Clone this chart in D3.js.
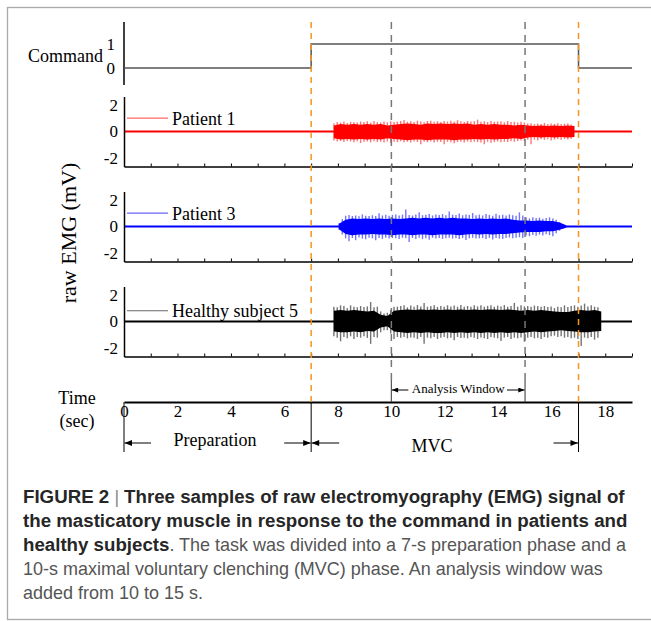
<!DOCTYPE html>
<html>
<head>
<meta charset="utf-8">
<script src="https://cdn.jsdelivr.net/npm/d3@7"></script>
<style>
body{margin:0;background:#fff}
svg{display:block}
</style>
</head>
<body>
<svg id="fig" width="651" height="621"></svg>
<script>
// ---- data ----
var timeTicks = [0, 2, 4, 6, 8, 10, 12, 14, 16, 18];
var emgTicks = [-2, 0, 2];
var commandTimes = [0, 7, 7, 17, 17, 19];
var commandLevels = [0, 0, 1, 1, 0, 0];
var phaseBounds = [7, 17];      // orange lines
var windowBounds = [10, 15];    // analysis window
var envStep = 0.25;             // s between envelope samples of the dense part
var binStep = 0.125;            // s per max/min bin

// Patient 1 : dense part envelope (mV) and per-bin max / min (mV)
var p1Start = 7.85;
var p1Upper = [0.45,0.55,0.5,0.55,0.5,0.55,0.5,0.55,0.45,0.5,0.55,0.6,0.55,0.5,0.6,0.55,0.6,0.55,0.6,0.55,0.6,0.5,0.55,0.5,0.55,0.5,0.5,0.45,0.5,0.45,0.4,0.45,0.4,0.45,0.4,0.45,0.4];
var p1Lower = [-0.5,-0.6,-0.55,-0.6,-0.55,-0.6,-0.55,-0.6,-0.5,-0.55,-0.6,-0.65,-0.6,-0.6,-0.65,-0.6,-0.6,-0.6,-0.65,-0.6,-0.6,-0.55,-0.6,-0.55,-0.6,-0.55,-0.55,-0.5,-0.55,-0.45,-0.4,-0.45,-0.4,-0.45,-0.4,-0.45,-0.4];
var p1Max = [0.6,0.7,0.66,0.75,0.64,0.72,0.68,0.66,0.74,0.7,
             0.76,0.66,0.78,0.7,0.66,0.74,0.68,0.76,0.7,0.72,
             0.78,0.85,0.72,0.76,0.7,0.8,0.74,0.68,0.78,0.8,
             0.72,0.76,0.7,0.78,0.74,0.8,0.72,0.84,0.76,0.7,
             0.78,0.74,0.76,0.88,0.72,0.76,0.7,0.78,0.72,0.74,
             0.76,0.68,0.78,0.7,0.72,0.66,0.72,0.66,0.6,0.62,
             0.55,0.6,0.56,0.64,0.55,0.6,0.56,0.62,0.55,0.58,0.6,0.52];
var p1Min = [-0.66,-0.74,-0.7,-0.78,-0.7,-0.74,-0.8,-0.72,-0.86,-0.76,
             -0.74,-0.8,-0.72,-0.78,-0.76,-0.82,-0.74,-0.86,-0.76,-0.78,
             -0.72,-0.8,-0.76,-0.82,-0.74,-0.78,-0.94,-0.76,-0.8,-0.74,
             -0.82,-0.76,-0.78,-0.94,-0.76,-0.8,-0.88,-0.78,-0.76,-0.82,
             -0.74,-0.8,-0.76,-0.78,-0.82,-0.94,-0.76,-0.84,-0.78,-0.74,
             -0.8,-0.76,-0.78,-0.72,-0.76,-0.7,-0.66,-0.72,-0.62,-0.94,
             -0.6,-0.66,-0.56,-0.62,-0.58,-0.66,-0.6,-0.56,-0.62,-0.55,-0.6,-0.54];

// Patient 3
var p3Start = 8.04;
var p3Upper = [0.2,0.5,0.6,0.55,0.6,0.55,0.6,0.55,0.6,0.55,0.6,0.65,0.6,0.65,0.6,0.65,0.6,0.65,0.6,0.6,0.55,0.6,0.55,0.6,0.55,0.6,0.5,0.45,0.45,0.4,0.45,0.4,0.4,0.3,0.1];
var p3Lower = [-0.2,-0.55,-0.65,-0.6,-0.6,-0.55,-0.6,-0.6,-0.65,-0.6,-0.6,-0.65,-0.6,-0.6,-0.65,-0.6,-0.6,-0.6,-0.65,-0.6,-0.55,-0.6,-0.55,-0.6,-0.55,-0.55,-0.5,-0.45,-0.4,-0.4,-0.4,-0.35,-0.35,-0.25,-0.1];
var p3Max = [0.25,0.55,0.8,0.85,0.78,0.82,0.76,0.9,0.8,0.78,
             0.84,0.78,0.98,0.82,0.88,0.8,0.86,0.9,0.82,0.88,
             1.26,0.86,0.82,0.9,1.05,0.84,0.88,0.92,0.82,0.9,
             0.86,0.92,0.84,1.12,0.88,0.86,0.96,0.84,0.9,0.86,
             1.0,0.84,0.88,0.82,0.92,0.86,0.8,0.94,0.84,0.88,
             0.82,0.9,0.84,0.8,1.05,0.82,0.66,0.6,0.68,0.64,
             0.66,0.58,0.64,0.68,0.6,0.5,0.32,0.15];
var p3Min = [-0.25,-0.6,-0.88,-1.1,-0.86,-1.02,-0.82,-0.9,-0.94,-0.84,
             -0.88,-1.02,-0.86,-0.92,-0.84,-0.9,-0.86,-0.88,-0.93,-0.84,
             -0.88,-1.15,-0.86,-0.92,-0.84,-0.94,-0.88,-0.98,-0.84,-0.9,
             -0.86,-0.92,-0.88,-0.84,-0.9,-0.88,-0.93,-0.86,-1.0,-0.88,
             -0.84,-0.9,-0.88,-0.86,-0.92,-0.84,-0.96,-0.86,-0.9,-0.93,
             -0.86,-0.82,-0.88,-0.84,-0.8,-0.86,-0.66,-0.72,-0.64,-0.68,
             -0.6,-0.66,-0.58,-0.64,-0.72,-0.5,-0.32,-0.15];

// Healthy subject 5
var h5Start = 7.85;
var h5Upper = [0.8,0.85,0.8,0.85,0.8,0.75,0.8,0.5,0.4,0.8,0.85,0.9,0.85,0.9,0.85,0.9,0.85,0.9,0.85,0.9,0.85,0.9,0.85,0.9,0.9,0.85,0.9,0.85,0.8,0.85,0.8,0.85,0.8,0.75,0.7,0.7,0.8,0.85,0.8,0.85,0.75];
var h5Lower = [-0.75,-0.8,-0.8,-0.75,-0.8,-0.7,-0.75,-0.45,-0.35,-0.75,-0.8,-0.85,-0.8,-0.85,-0.8,-0.85,-0.85,-0.8,-0.85,-0.8,-0.85,-0.8,-0.85,-0.8,-0.85,-0.8,-0.85,-0.8,-0.85,-0.8,-0.75,-0.8,-0.75,-0.7,-0.65,-0.7,-0.75,-0.8,-0.8,-0.75,-0.7];
var h5Max = [1.1,1.05,1.2,1.15,1.0,1.2,1.1,1.05,1.15,1.08,
             1.12,1.45,1.05,1.1,0.75,0.6,0.65,0.85,1.1,1.1,
             1.15,1.2,1.05,1.18,1.1,1.22,1.12,1.38,1.1,1.15,
             1.2,1.08,1.15,1.1,1.2,1.12,1.18,1.1,1.22,1.1,
             1.15,1.1,1.2,1.12,1.2,1.1,1.16,1.2,1.1,1.18,
             1.12,1.22,1.1,1.15,1.38,1.1,1.2,1.12,1.15,1.1,
             1.18,1.15,1.1,1.15,1.08,1.12,1.0,1.1,1.05,1.2,
             1.08,1.15,1.2,1.1,1.18,1.33,1.12,1.2,1.1,1.05];
var h5Min = [-1.1,-1.2,-1.47,-1.15,-1.25,-1.1,-1.3,-1.15,-1.2,-1.1,
             -1.22,-1.66,-1.15,-1.2,-0.8,-0.65,-0.65,-0.9,-1.3,-1.15,
             -1.2,-1.15,-1.25,-1.18,-1.2,-1.3,-1.15,-1.66,-1.2,-1.25,
             -1.15,-1.3,-1.2,-1.15,-1.25,-1.2,-1.4,-1.15,-1.22,-1.2,
             -1.25,-1.15,-1.2,-1.3,-1.18,-1.25,-1.3,-1.15,-1.2,-1.25,
             -1.45,-1.2,-1.15,-1.3,-1.2,-1.25,-1.18,-1.5,-1.2,-1.15,
             -1.25,-1.2,-1.3,-1.15,-1.2,-1.1,-1.05,-1.15,-1.1,-1.2,
             -1.15,-1.25,-1.2,-1.3,-1.82,-1.2,-1.25,-1.15,-1.35,-1.2];

var seriesNames = ["Patient 1", "Patient 3", "Healthy subject 5"];
var seriesColors = ["#ff0000", "#0000ff", "#000000"];
var legendLevels = [1.0, 1.0, 0.8];

// ---- layout ----
var serif = '"Liberation Serif","Times New Roman",serif';
var svg = d3.select("#fig");

svg.append("rect")
    .attr("x", 7.5).attr("y", 7.5).attr("width", 660).attr("height", 612)
    .attr("fill", "none").attr("stroke", "#a9a9a9").attr("stroke-width", 1.3);

var defs = svg.append("defs");
defs.append("marker").attr("id", "arr")
    .attr("viewBox", "0 -4 10 8").attr("refX", 10).attr("refY", 0)
    .attr("markerUnits", "userSpaceOnUse")
    .attr("markerWidth", 9).attr("markerHeight", 6).attr("orient", "auto")
  .append("path").attr("d", "M0,-4L10,0L0,4Z").attr("fill", "#000");
defs.append("marker").attr("id", "arrS")
    .attr("viewBox", "0 -4 10 8").attr("refX", 10).attr("refY", 0)
    .attr("markerUnits", "userSpaceOnUse")
    .attr("markerWidth", 8).attr("markerHeight", 5).attr("orient", "auto")
  .append("path").attr("d", "M0,-4L10,0L0,4Z").attr("fill", "#000");

var x = d3.scaleLinear().domain([0, 19]).range([124, 632]);

// command panel
var yCmd = d3.scaleLinear().domain([0, 1]).range([68, 44]);
svg.append("line").attr("x1", x(0)).attr("x2", x(0)).attr("y1", 22).attr("y2", 85)
    .attr("stroke", "#000").attr("stroke-width", 1.5);
var cmdAxis = svg.append("g").attr("transform", "translate(" + x(0) + ",0)")
    .call(d3.axisLeft(yCmd).tickValues([0, 1]).tickSize(0).tickPadding(9).tickFormat(String));
cmdAxis.select(".domain").remove();
cmdAxis.selectAll("text").attr("font-family", serif).attr("font-size", 17).attr("fill", "#000");
svg.append("path")
    .datum(d3.range(commandTimes.length))
    .attr("d", d3.line().x(function (i) { return x(commandTimes[i]); })
                        .y(function (i) { return yCmd(commandLevels[i]); }))
    .attr("fill", "none").attr("stroke", "#555").attr("stroke-width", 1.5);
svg.append("text").attr("x", 103).attr("y", 62).attr("text-anchor", "end")
    .attr("font-family", serif).attr("font-size", 18).text("Command");

// EMG panels
var panels = [
    {start: p1Start, up: p1Upper, lo: p1Lower, mx: p1Max, mn: p1Min},
    {start: p3Start, up: p3Upper, lo: p3Lower, mx: p3Max, mn: p3Min},
    {start: h5Start, up: h5Upper, lo: h5Lower, mx: h5Max, mn: h5Min}
];
var panelTops = [96.5, 191.5, 286.5];
var panelH = 70;

panels.forEach(function (p, k) {
    var top = panelTops[k];
    var color = seriesColors[k];
    var y = d3.scaleLinear().domain([-2.6, 2.6]).range([top + panelH, top]);
    var g = svg.append("g");

    // baseline
    g.append("line").attr("x1", x(0)).attr("x2", x(19)).attr("y1", y(0)).attr("y2", y(0))
        .attr("stroke", color).attr("stroke-width", 1.8);

    // max/min per bin (the hairy outline)
    g.selectAll(".bin").data(p.mx).enter().append("line")
        .attr("x1", function (d, i) { return x(p.start + i * binStep); })
        .attr("x2", function (d, i) { return x(p.start + i * binStep); })
        .attr("y1", function (d, i) { return y(p.mn[i]); })
        .attr("y2", function (d) { return y(d); })
        .attr("stroke", color).attr("stroke-width", 1.4).attr("stroke-opacity", 0.55);

    // dense part
    var area = d3.area()
        .x(function (d, i) { return x(p.start + i * envStep); })
        .y0(function (d, i) { return y(p.lo[i]); })
        .y1(function (d) { return y(d); });
    g.append("path").datum(p.up).attr("d", area).attr("fill", color);

    // axes
    var ya = g.append("g").attr("transform", "translate(" + x(0) + ",0)")
        .call(d3.axisLeft(y).tickValues(emgTicks).tickSize(0).tickPadding(6).tickFormat(String));
    ya.select(".domain").attr("stroke", "#000").attr("stroke-width", 1.5);
    ya.selectAll("text").attr("font-family", serif).attr("font-size", 17).attr("fill", "#000");

    var xa = g.append("g").attr("transform", "translate(0," + (top + panelH) + ")")
        .call(d3.axisBottom(x).tickValues(d3.range(0, 20)).tickSize(-3).tickSizeOuter(0).tickFormat(""));
    xa.select(".domain").attr("stroke", "#000").attr("stroke-width", 1.5);
    xa.selectAll(".tick line").attr("stroke", "#000");

    // legend
    var ly = y(legendLevels[k]);
    g.append("line").attr("x1", 127).attr("x2", 168).attr("y1", ly).attr("y2", ly)
        .attr("stroke", color).attr("stroke-width", 1.2).attr("stroke-opacity", 0.6);
    g.append("text").attr("x", 172).attr("y", ly + 6.5)
        .attr("font-family", serif).attr("font-size", 18).text(seriesNames[k]);
});

svg.append("text")
    .attr("transform", "translate(68,233) rotate(-90)")
    .attr("text-anchor", "middle").attr("dominant-baseline", "central")
    .attr("font-family", serif).attr("font-size", 22).text("raw EMG (mV)");

// time axis
var axisY = 402;
var ta = svg.append("g").attr("transform", "translate(0," + axisY + ")")
    .call(d3.axisBottom(x).tickValues(timeTicks).tickSize(0).tickPadding(3).tickFormat(String));
ta.select(".domain").attr("stroke", "#000").attr("stroke-width", 2.2);
ta.selectAll("text").attr("font-family", serif).attr("font-size", 17).attr("fill", "#000");
svg.append("text").attr("x", 77).attr("y", 404).attr("text-anchor", "middle")
    .attr("font-family", serif).attr("font-size", 18).text("Time");
svg.append("text").attr("x", 77).attr("y", 427).attr("text-anchor", "middle")
    .attr("font-family", serif).attr("font-size", 18).text("(sec)");

// guide lines
svg.selectAll(".phase").data(phaseBounds).enter().append("line")
    .attr("x1", function (d) { return x(d); }).attr("x2", function (d) { return x(d); })
    .attr("y1", 22).attr("y2", axisY)
    .attr("stroke", "#f7931e").attr("stroke-width", 1.5).attr("stroke-dasharray", "6,5");
svg.selectAll(".win").data(windowBounds).enter().append("line")
    .attr("x1", function (d) { return x(d); }).attr("x2", function (d) { return x(d); })
    .attr("y1", 22).attr("y2", 380)
    .attr("stroke", "#777").attr("stroke-width", 1.5).attr("stroke-dasharray", "7,6");
svg.selectAll(".winStem").data(windowBounds).enter().append("line")
    .attr("x1", function (d) { return x(d); }).attr("x2", function (d) { return x(d); })
    .attr("y1", 380).attr("y2", axisY)
    .attr("stroke", "#555").attr("stroke-width", 1.2);

// phase brackets
svg.selectAll(".stem").data([0].concat(phaseBounds)).enter().append("line")
    .attr("x1", function (d) { return x(d); }).attr("x2", function (d) { return x(d); })
    .attr("y1", axisY).attr("y2", 452)
    .attr("stroke", "#000").attr("stroke-width", 1);

function arrow(from, to, yy, mk) {
    svg.append("line").attr("x1", from).attr("x2", to).attr("y1", yy).attr("y2", yy)
        .attr("stroke", "#000").attr("stroke-width", 1).attr("marker-end", "url(#" + mk + ")");
}
arrow(x(0) + 27, x(0) + 0.5, 443, "arr");
arrow(x(7) - 27, x(7) - 0.5, 443, "arr");
arrow(x(7) + 28, x(7) + 0.5, 443, "arr");
arrow(x(17) - 25, x(17) - 0.5, 443, "arr");
arrow(x(10) + 17, x(10) + 0.5, 390, "arrS");
arrow(x(15) - 18, x(15) - 0.5, 390, "arrS");

svg.append("text").attr("x", 215).attr("y", 446).attr("text-anchor", "middle")
    .attr("font-family", serif).attr("font-size", 18).text("Preparation");
svg.append("text").attr("x", 432).attr("y", 452).attr("text-anchor", "middle")
    .attr("font-family", serif).attr("font-size", 18).text("MVC");
svg.append("text").attr("x", (x(10) + x(15)) / 2).attr("y", 392.5).attr("text-anchor", "middle")
    .attr("font-family", serif).attr("font-size", 13).text("Analysis Window");

// caption
var sans = '"Liberation Sans",Arial,sans-serif';
var capLines = [
    [["FIGURE 2 ", 1], ["| ", 2], ["Three samples of raw electromyography (EMG) signal of", 1]],
    [["the masticatory muscle in response to the command in patients and", 1]],
    [["healthy subjects", 1], [". The task was divided into a 7-s preparation phase and a", 0]],
    [["10-s maximal voluntary clenching (MVC) phase. An analysis window was", 0]],
    [["added from 10 to 15 s.", 0]]
];
var capY = [503, 527, 551, 575, 599];
var capText = svg.append("g").attr("font-family", sans);
capLines.forEach(function (parts, i) {
    var t = capText.append("text").attr("x", 23).attr("y", capY[i]).attr("class", "cap" + i);
    parts.forEach(function (p) {
        t.append("tspan").text(p[0])
            .attr("font-weight", p[1] === 1 ? "bold" : "normal")
            .attr("fill", p[1] === 1 ? "#262626" : (p[1] === 2 ? "#888" : "#555"));
    });
});
// fit caption size to measured line widths
capText.attr("font-size", 16);
var bw = capText.select(".cap1").node().getComputedTextLength();
var nw = capText.select(".cap3").node().getComputedTextLength();
var bs = 16 * 605 / bw, ns = 16 * 580 / nw;
capText.selectAll("tspan").attr("font-size", function () {
    return d3.select(this).attr("font-weight") === "bold" ? bs : ns;
});
</script>
</body>
</html>
